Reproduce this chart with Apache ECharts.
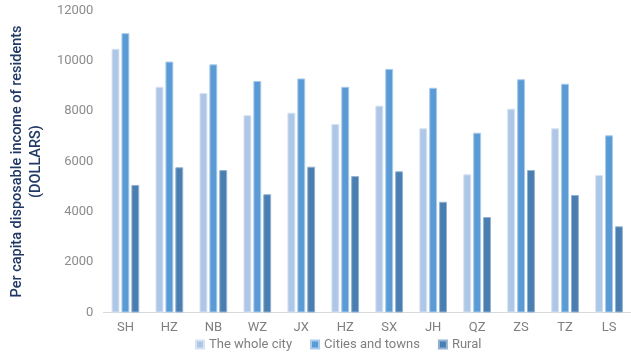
<!DOCTYPE html>
<html>
<head>
<meta charset="utf-8">
<script src="https://cdn.jsdelivr.net/npm/echarts@6/dist/echarts.min.js"></script>
<style>html,body{margin:0;padding:0;background:#fff}#c{width:631px;height:356px}</style>
</head>
<body>
<div id="c"></div>
<script>
const categories = ['SH','HZ','NB','WZ','JX','HZ','SX','JH','QZ','ZS','TZ','LS'];
const wholeCity = [10480, 8970, 8720, 7840, 7940, 7490, 8220, 7320, 5490, 8100, 7320, 5460];
const citiesTowns = [11100, 9970, 9860, 9200, 9300, 8970, 9680, 8930, 7145, 9270, 9090, 7040];
const rural = [5070, 5770, 5660, 4700, 5795, 5420, 5610, 4400, 3795, 5660, 4670, 3425];
const yTicks = [0, 2000, 4000, 6000, 8000, 10000, 12000];

const chart = echarts.init(document.getElementById('c'), null, {renderer:'canvas'});
const font = 'Roboto, "Liberation Sans", Arial, sans-serif';
function bar(name, data, color, border) {
  return {
    name, type:'bar', data,
    barGap:'25%', barCategoryGap:'37%',
    itemStyle:{color, borderColor:border, borderWidth:1},
    emphasis:{disabled:true}
  };
}
chart.setOption({
  animation:false,
  textStyle:{fontFamily:font},
  grid:{left:100, right:0, top:10.5, bottom:43.5, containLabel:false},
  legend:{
    bottom:0, left:190,
    itemWidth:8, itemHeight:8, itemGap:18,
    icon:'rect',
    textStyle:{color:'#7f7f7f', fontSize:13, fontFamily:font},
    data:['The whole city','Cities and towns','Rural']
  },
  xAxis:{
    type:'category', data:categories,
    axisLine:{lineStyle:{color:'#d9d9d9', width:1}},
    axisTick:{show:false},
    axisLabel:{color:'#7f7f7f', fontSize:13, margin:9, fontFamily:font}
  },
  yAxis:{
    type:'value', min:yTicks[0], max:yTicks[yTicks.length-1], interval:2000,
    splitLine:{show:false},
    axisLine:{show:false}, axisTick:{show:false},
    axisLabel:{color:'#8c8c8c', fontSize:13, margin:10, fontFamily:font, formatter:(v)=>String(v)},
    name:'Per capita disposable income of residents\n(DOLLARS)',
    nameLocation:'middle', nameGap:57, nameRotate:90,
    nameTextStyle:{color:'#203864', fontSize:14.5, fontWeight:500, lineHeight:19, fontFamily:font, align:'center'}
  },
  series:[
    bar('The whole city', wholeCity, '#aec7e6', '#d6e3f3'),
    bar('Cities and towns', citiesTowns, '#5b9bd5', '#a9cbeb'),
    bar('Rural', rural, '#4a7eb0', '#93b3d3')
  ]
});
</script>
</body>
</html>
